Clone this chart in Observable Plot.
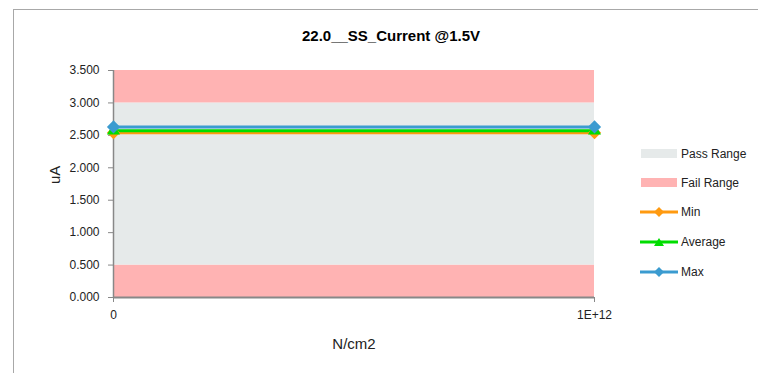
<!DOCTYPE html>
<html><head><meta charset="utf-8">
<script src="https://cdn.jsdelivr.net/npm/d3@7"></script>
<script src="https://cdn.jsdelivr.net/npm/@observablehq/plot@0.6"></script>
<style>
html,body{margin:0;background:#fff;font-family:"Liberation Sans",Arial,sans-serif;overflow:hidden;width:758px;height:373px;}
#frame{position:absolute;left:13px;top:9px;width:800px;height:420px;border:1.5px solid #a8a8a8;box-sizing:border-box;}
#title{position:absolute;left:0;width:782px;top:27px;text-align:center;font-weight:bold;font-size:15px;color:#000;}
#chart{position:absolute;left:0;top:0;}
#legend{position:absolute;left:640px;top:0;font-size:12px;color:#222;}
.item{position:absolute;left:0;height:14px;display:flex;align-items:center;white-space:nowrap;}
.item svg{margin-right:3px;}
</style></head>
<body>
<div id="frame"></div>
<div id="title">22.0__SS_Current @1.5V</div>
<div id="chart"></div>
<div id="legend"></div>
<script>
const xValues = [0, 1e12];
const xTickLabels = ["0", "1E+12"];
const yTicks = [0, 0.5, 1, 1.5, 2, 2.5, 3, 3.5];
const bandNames = ["Fail Range", "Pass Range", "Fail Range"];
const bandLow = [0, 0.5, 3.0];
const bandHigh = [0.5, 3.0, 3.5];
const seriesNames = ["Min", "Average", "Max"];
const minValues = [2.54, 2.54];
const avgValues = [2.57, 2.57];
const maxValues = [2.63, 2.63];

const colors = {"Pass Range":"#e6eaea","Fail Range":"#ffb3b3","Min":"#ff9a10","Average":"#00dd00","Max":"#3b9bd0"};
const symbols = {"Min":"diamond2","Average":"triangle2","Max":"diamond2"};

const bands = bandNames.map((n,i)=>({name:n, y1:bandLow[i], y2:bandHigh[i], x1:xValues[0], x2:xValues[xValues.length-1]}));
const seriesVals = [minValues, avgValues, maxValues];
const points = [];
seriesNames.forEach((s,si)=> xValues.forEach((x,i)=> points.push({series:s, x, y:seriesVals[si][i]})));

const plot = Plot.plot({
  width: 620, height: 373,
  marginLeft: 113, marginRight: 26, marginTop: 70, marginBottom: 76,
  style: {fontFamily: "Liberation Sans, Arial, sans-serif", fontSize: "12px", color: "#222", background: "transparent"},
  x: {domain: [xValues[0], xValues[xValues.length-1]], label: null},
  y: {domain: [0, 3.5], label: null},
  marks: [
    Plot.rect(bands, {x1:"x1", x2:"x2", y1:"y1", y2:"y2", fill: d=>colors[d.name]}),
    Plot.axisY({ticks: yTicks, tickFormat: d3.format(".3f"), tickSize: 5, stroke: "#888", tickPadding: 9, fontSize: 12, label: null}),
    Plot.axisX({ticks: xValues, tickFormat: d=> xTickLabels[xValues.indexOf(d)], tickSize: 5, stroke: "#888", tickPadding: 8, fontSize: 12, label: null}),
    Plot.ruleX([xValues[0]], {stroke: "#888", strokeWidth: 1.5}),
    Plot.ruleY([0], {stroke: "#888", strokeWidth: 2}),
    Plot.line(points, {x:"x", y:"y", z:"series", stroke: d=>colors[d.series], strokeWidth: 3}),
    Plot.dot(points, {x:"x", y:"y", fill: d=>colors[d.series], stroke: d=>colors[d.series], symbol: d=>symbols[d.series], r: 5}),
    Plot.text(["N/cm2"], {frameAnchor: "bottom", dy: 51, fontSize: 15, fill: "#222"}),
    Plot.text(["uA"], {frameAnchor: "left", dx: -58, rotate: -90, fontSize: 15, fill: "#222"})
  ]
});
document.getElementById("chart").appendChild(plot);

// legend
const legend = document.getElementById("legend");
const legendItems = [
  {name:"Pass Range", kind:"rect", y:154},
  {name:"Fail Range", kind:"rect", y:183},
  {name:"Min", kind:"line", y:212},
  {name:"Average", kind:"line", y:242},
  {name:"Max", kind:"line", y:272}
];
legendItems.forEach(it=>{
  const div = document.createElement("div");
  div.className = "item";
  div.style.top = (it.y - 7) + "px";
  const c = colors[it.name];
  let sw;
  if (it.kind === "rect") {
    sw = `<svg width="38" height="10"><rect x="1" y="0" width="36" height="9" fill="${c}"/></svg>`;
  } else {
    const sym = symbols[it.name] === "triangle2"
      ? `<path d="M19,1 L24,9 L14,9 Z" fill="${c}"/>`
      : `<path d="M19,0 L24,5 L19,10 L14,5 Z" fill="${c}"/>`;
    sw = `<svg width="38" height="10"><line x1="0" x2="38" y1="5" y2="5" stroke="${c}" stroke-width="3"/>${sym}</svg>`;
  }
  div.innerHTML = sw + `<span>${it.name}</span>`;
  legend.appendChild(div);
});
</script>
</body></html>
